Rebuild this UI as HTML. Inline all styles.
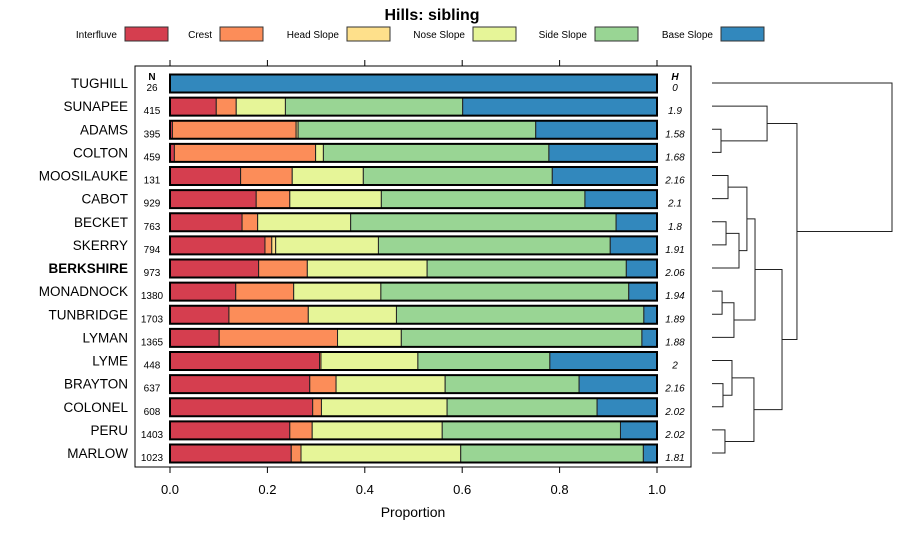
<!DOCTYPE html>
<html><head><meta charset="utf-8"><style>
body{margin:0;background:#fff}
svg{display:block;font-family:"Liberation Sans",sans-serif}
</style></head><body>
<svg id="c" width="900" height="540" xmlns="http://www.w3.org/2000/svg">
<text x="432" y="20" text-anchor="middle" font-size="16" font-weight="bold">Hills: sibling</text>
<g id="legend"></g>
<rect x="135" y="66" width="556" height="401" fill="none" stroke="#000" stroke-width="1"/>
<g id="bars"></g>
<g id="axis"></g>
<g id="dendro"></g>
<text x="413" y="517" text-anchor="middle" font-size="14">Proportion</text>
</svg>
<script>
const hills=["TUGHILL","SUNAPEE","ADAMS","COLTON","MOOSILAUKE","CABOT","BECKET","SKERRY","BERKSHIRE","MONADNOCK","TUNBRIDGE","LYMAN","LYME","BRAYTON","COLONEL","PERU","MARLOW"];
const nVals=[26,415,395,459,131,929,763,794,973,1380,1703,1365,448,637,608,1403,1023];
const hVals=["0","1.9","1.58","1.68","2.16","2.1","1.8","1.91","2.06","1.94","1.89","1.88","2","2.16","2.02","2.02","1.81"];
const categories=["Interfluve","Crest","Head Slope","Nose Slope","Side Slope","Base Slope"];
const colors=["#D53E4F","#FC8D59","#FEE08B","#E6F598","#99D594","#3288BD"];
const interfluve=[0,0.095,0.005,0.009,0.145,0.177,0.148,0.195,0.182,0.135,0.121,0.101,0.307,0.287,0.293,0.246,0.249];
const crest=[0,0.041,0.254,0.290,0.106,0.069,0.032,0.014,0.100,0.119,0.163,0.243,0.003,0.054,0.018,0.046,0.020];
const headSlope=[0,0,0.004,0,0,0,0,0.008,0,0,0,0,0,0,0,0,0];
const noseSlope=[0,0.101,0,0.016,0.146,0.188,0.191,0.211,0.246,0.179,0.181,0.131,0.199,0.224,0.258,0.267,0.328];
const sideSlope=[0,0.364,0.488,0.463,0.388,0.418,0.545,0.476,0.409,0.509,0.508,0.494,0.271,0.275,0.308,0.366,0.375];
const baseSlope=[1,0.399,0.249,0.222,0.215,0.148,0.084,0.096,0.063,0.058,0.027,0.031,0.220,0.160,0.123,0.075,0.028];
const ticks=[0,0.2,0.4,0.6,0.8,1.0];
const tickLabels=["0.0","0.2","0.4","0.6","0.8","1.0"];
// dendrogram merges: [left, right, height]; leaves are row indices, nodes are "n"+index
const merges=[[2,3,0.05],[1,"n0",0.306],[4,5,0.089],[6,7,0.078],["n3",8,0.15],["n2","n4",0.194],[9,10,0.056],["n6",11,0.122],["n5","n7",0.239],[13,14,0.061],[12,"n9",0.111],[15,16,0.072],["n10","n11",0.233],["n8","n12",0.389],["n1","n13",0.472],[0,"n14",1.0]];
const series=[interfluve,crest,headSlope,noseSlope,sideSlope,baseSlope];
const NS="http://www.w3.org/2000/svg";
const x0=170,x1=657;
const xs=v=>x0+(x1-x0)*v;
const rowY=i=>83+i*23.125;
const dx=h=>712+(892-712)*h;
function mk(tag,attrs,parent,text){const e=document.createElementNS(NS,tag);for(const k in attrs)e.setAttribute(k,attrs[k]);if(text!==undefined)e.textContent=text;parent.appendChild(e);return e;}
const lg=document.getElementById('legend');
const lgRect=[125,220,347,473,595,721];
categories.forEach((c,i)=>{
  const t=mk('text',{x:lgRect[i]-8,y:38,'text-anchor':'end','font-size':10},lg,c);
  
  
  const r=mk('rect',{x:lgRect[i],y:27,width:43,height:14,fill:colors[i],stroke:'#333','stroke-width':1},lg);
  
  
});
const bg=document.getElementById('bars');
mk('text',{x:152,y:80,'text-anchor':'middle','font-size':10,'font-weight':'bold'},bg,'N');
mk('text',{x:675,y:80,'text-anchor':'middle','font-size':10,'font-weight':'bold','font-style':'italic'},bg,'H');
hills.forEach((h,i)=>{
  const y=rowY(i);
  const lab=mk('text',{x:128,y:y+5,'text-anchor':'end','font-size':13.5,'font-weight':h==='BERKSHIRE'?'bold':'normal'},bg,h);
  
  
  const nt=mk('text',{x:152,y:y+8,'text-anchor':'middle','font-size':10},bg,String(nVals[i]));
  
  
  const ht=mk('text',{x:675,y:y+8,'text-anchor':'middle','font-size':10,'font-style':'italic'},bg,hVals[i]);
  
  
  let cum=0;
  series.forEach((s,k)=>{
    const v=s[i];
    if(v>0){
      const r=mk('rect',{x:xs(cum),y:y-8.5,width:xs(cum+v)-xs(cum),height:18,fill:colors[k],stroke:'#222','stroke-width':1},bg);
      
      
    }
    cum+=v;
  });
  const o=mk('rect',{x:xs(0),y:y-8.5,width:xs(1)-xs(0),height:18,fill:'none',stroke:'#000','stroke-width':2},bg);
  
  
});
const ax=document.getElementById('axis');
ticks.forEach((t,i)=>{
  mk('line',{x1:xs(t),x2:xs(t),y1:467,y2:473,stroke:'#000'},ax);
  mk('line',{x1:xs(t),x2:xs(t),y1:60,y2:66,stroke:'#000'},ax);
  const tl=mk('text',{x:xs(t),y:494,'text-anchor':'middle','font-size':13},ax,tickLabels[i]);
  
  
});
const dg=document.getElementById('dendro');
const nodes=[];
function pos(ref){if(typeof ref==='number')return {x:712,y:rowY(ref)};return nodes[+ref.slice(1)];}
merges.forEach(m=>{
  const a=pos(m[0]),b=pos(m[1]),x=dx(m[2]);
  const p=mk('path',{d:`M${a.x},${a.y}H${x}V${b.y}H${b.x}`,fill:'none',stroke:'#222','stroke-width':1},dg);
  
  
  nodes.push({x:x,y:(a.y+b.y)/2});
});
</script>
</body></html>
